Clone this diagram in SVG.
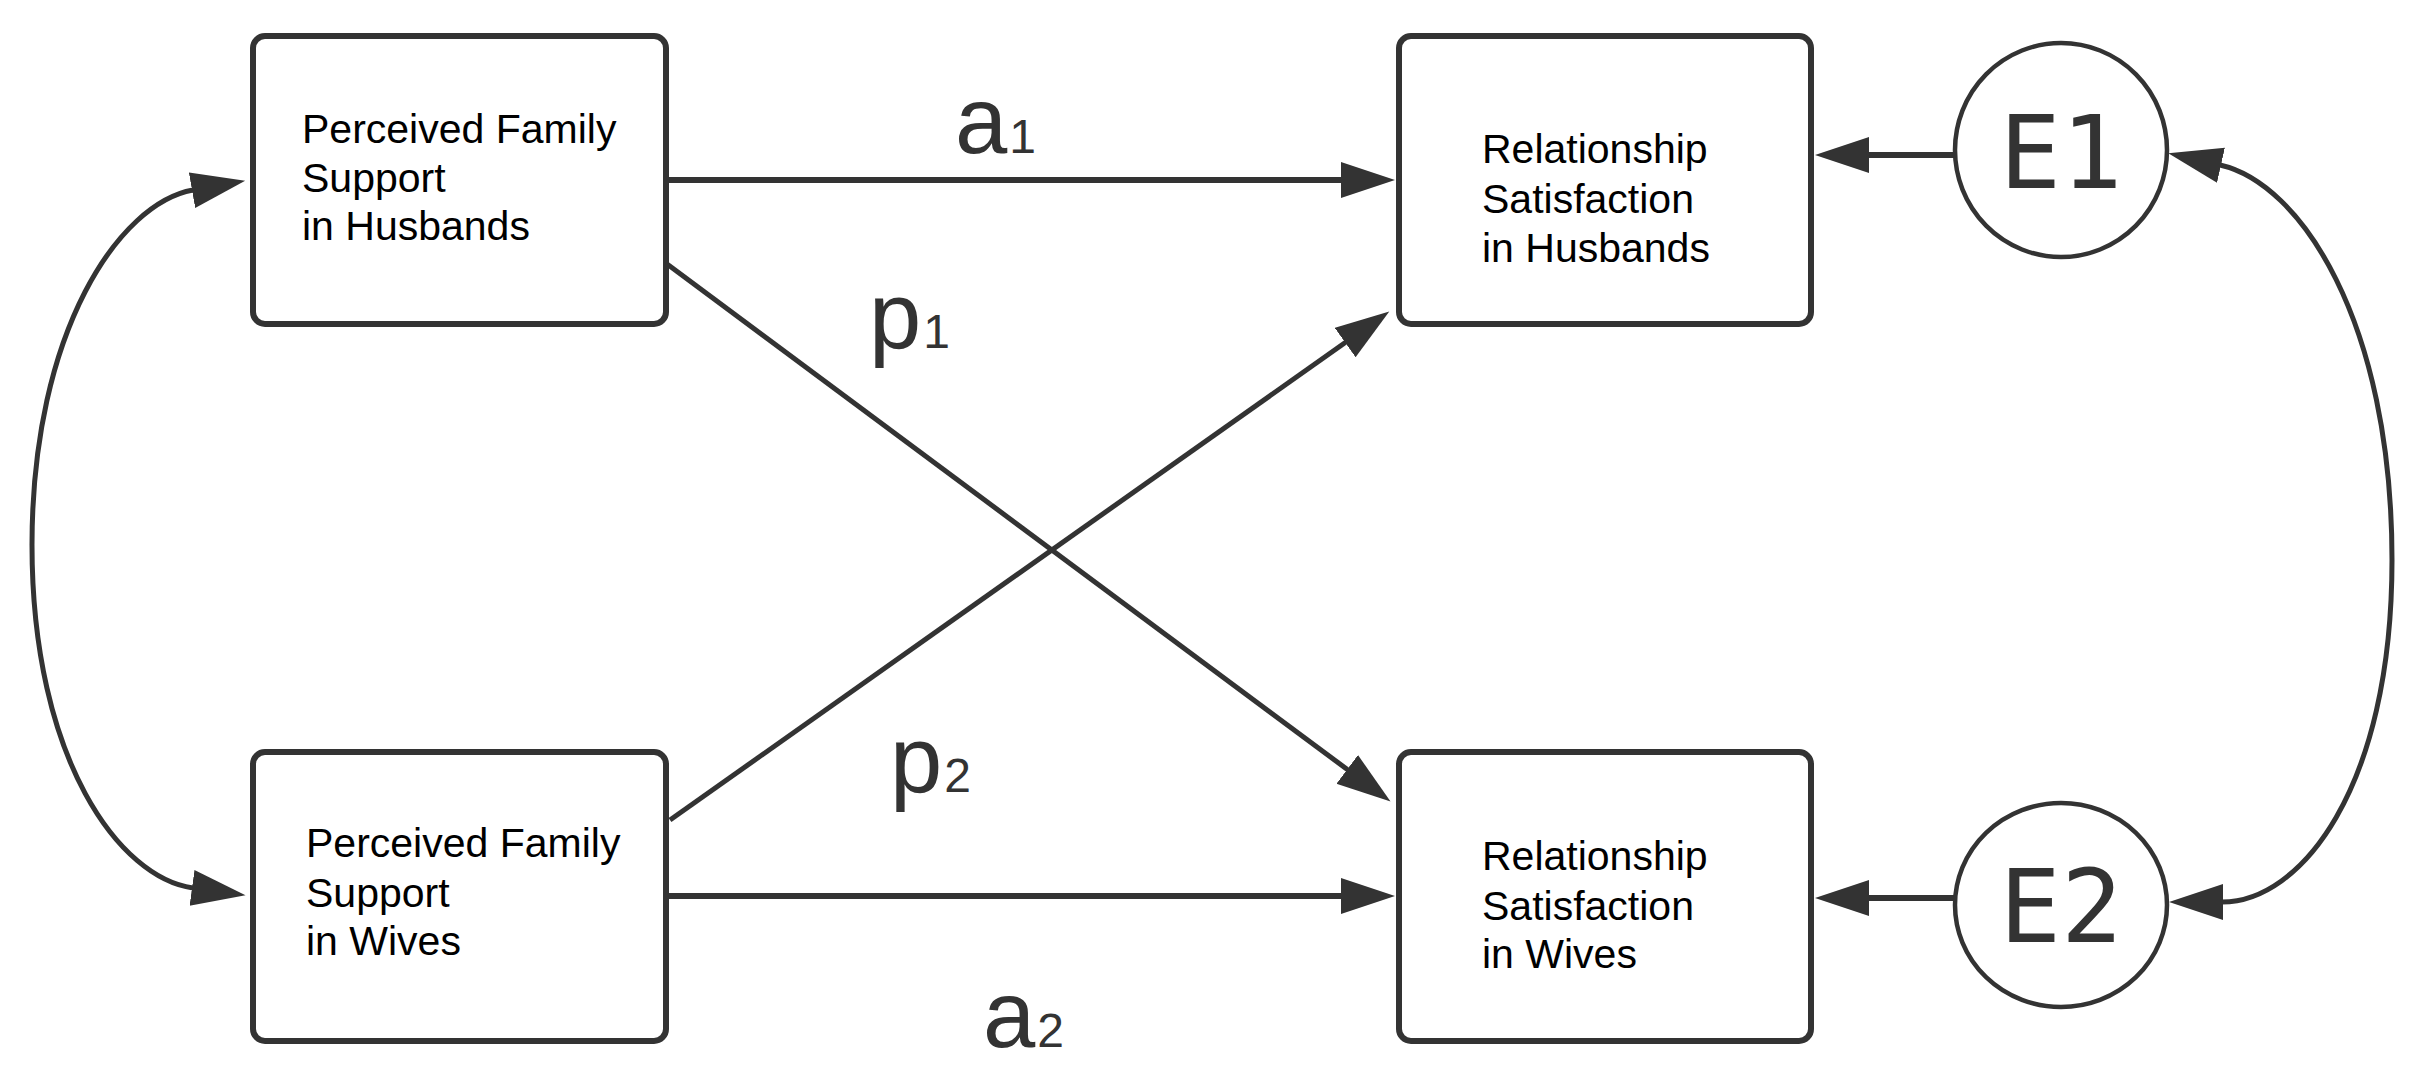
<svg xmlns="http://www.w3.org/2000/svg" width="2422" height="1080" viewBox="0 0 2422 1080">
<defs>
<marker id="arr" markerUnits="userSpaceOnUse" markerWidth="56" markerHeight="38" viewBox="0 0 56 38" refX="1" refY="18" orient="auto-start-reverse">
<path d="M0,0 L54,18 L0,36 z" fill="#333"/>
</marker>
<style>
.box{fill:#fff;stroke:#333;stroke-width:6}
.ell{fill:#fff;stroke:#333;stroke-width:4.5}
.t{font-family:"Liberation Sans",Arial,sans-serif;font-size:41px;fill:#000}
.e{font-family:"DejaVu Sans Mono",monospace;font-size:102px;fill:#333;text-anchor:middle}
.lbl{font-family:"Liberation Sans",Arial,sans-serif;font-size:94px;fill:#333}
.sub{font-size:48px}
.c{fill:none;stroke:#333;stroke-width:6}
.cc{fill:none;stroke:#333;stroke-width:5}
</style>
</defs>
<rect width="2422" height="1080" fill="#fff"/>
<g id="connectors">
<path class="c" d="M669,180 L1342,180" marker-end="url(#arr)"/>
<path class="c" d="M669,896 L1342,896" marker-end="url(#arr)"/>
<path class="cc" d="M667,264 L1348,770" marker-end="url(#arr)"/>
<path class="cc" d="M670,820 L1346,342" marker-end="url(#arr)"/>
<path class="c" d="M1955,155 L1868,155" marker-end="url(#arr)"/>
<path class="c" d="M1955,898 L1868,898" marker-end="url(#arr)"/>
<path class="cc" d="M193,190 C120,203 32,330 32,545 C32,760 120,878 193,888" marker-start="url(#arr)" marker-end="url(#arr)"/>
<path class="cc" d="M2220,165 C2300,183 2392,320 2392,560 C2392,790 2300,902 2222,902" marker-start="url(#arr)" marker-end="url(#arr)"/>
<text class="lbl" x="955" y="153">a<tspan class="sub" dx="2">1</tspan></text>
<text class="lbl" x="869" y="348">p<tspan class="sub" dx="2">1</tspan></text>
<text class="lbl" x="890" y="792">p<tspan class="sub" dx="2">2</tspan></text>
<text class="lbl" x="983" y="1047">a<tspan class="sub" dx="2">2</tspan></text>
</g>
<g id="pfs_husbands">
<rect class="box" x="253" y="36" width="413" height="288" rx="12"/>
<text class="t" x="302" y="143">Perceived Family</text>
<text class="t" x="302" y="192">Support</text>
<text class="t" x="302" y="240">in Husbands</text>
</g>
<g id="pfs_wives">
<rect class="box" x="253" y="752" width="413" height="289" rx="12"/>
<text class="t" x="306" y="857">Perceived Family</text>
<text class="t" x="306" y="907">Support</text>
<text class="t" x="306" y="955">in Wives</text>
</g>
<g id="rs_husbands">
<rect class="box" x="1399" y="36" width="412" height="288" rx="12"/>
<text class="t" x="1482" y="163">Relationship</text>
<text class="t" x="1482" y="213">Satisfaction</text>
<text class="t" x="1482" y="262">in Husbands</text>
</g>
<g id="rs_wives">
<rect class="box" x="1399" y="752" width="412" height="289" rx="12"/>
<text class="t" x="1482" y="870">Relationship</text>
<text class="t" x="1482" y="920">Satisfaction</text>
<text class="t" x="1482" y="968">in Wives</text>
</g>
<g id="e1">
<ellipse class="ell" cx="2061" cy="150" rx="106" ry="107"/>
<text class="e" x="2061" y="188">E1</text>
</g>
<g id="e2">
<ellipse class="ell" cx="2061" cy="905" rx="106" ry="102"/>
<text class="e" x="2061" y="942">E2</text>
</g>
</svg>
